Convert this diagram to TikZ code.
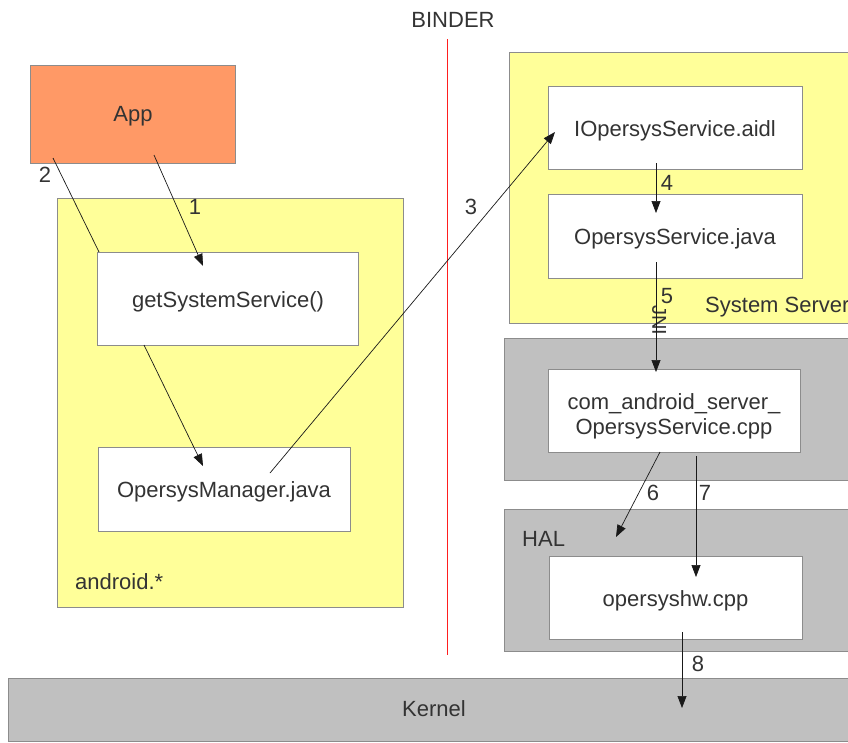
\documentclass[tikz,border=0pt]{standalone}
\usepackage{fontspec}
\setmainfont{Liberation Sans}
\usetikzlibrary{arrows.meta}
\definecolor{yel}{HTML}{FFFF99}
\definecolor{orng}{HTML}{FF9966}
\definecolor{gry}{HTML}{C0C0C0}
\definecolor{bord}{HTML}{8C8C8C}
\definecolor{txt}{HTML}{333333}
\definecolor{bindred}{RGB}{255,30,30}
\tikzset{
  x=1pt, y=-1pt,
  box/.style={draw=bord, line width=0.8pt, anchor=north west, inner sep=0pt, text=txt,
    font=\fontsize{22}{25}\selectfont, align=center},
  lbl/.style={inner sep=0pt, text=txt, font=\fontsize{22}{25}\selectfont,
    text height=0.72em, text depth=0.21em, yshift=-5pt},
  arr/.style={draw=black!90, line width=0.7pt, -{Triangle[length=12pt,width=9pt]}},
  ln/.style={draw=black!90, line width=0.7pt},
}
\begin{document}
\begin{tikzpicture}
\useasboundingbox (0,0) rectangle (848,742);
\clip (0,0) rectangle (848,742);
% containers
\node[box, fill=yel, minimum width=346pt, minimum height=409pt] (android) at (57,198) {};
\node[box, fill=yel, minimum width=360pt, minimum height=271pt] (sysserver) at (509,52) {};
\node[box, fill=gry, minimum width=360pt, minimum height=142pt] (jni) at (504,338) {};
\node[box, fill=gry, minimum width=360pt, minimum height=142pt] (hal) at (504,509) {};
\node[box, fill=gry, minimum width=860pt, minimum height=63pt] (kernel) at (8,678) {};
% binder line
\coordinate (bindtop) at (447.5,39);
\coordinate (bindbot) at (447.5,655);
\fill[bindred] (446.8,39) rectangle (448.4,655);
\node[lbl] (bindertxt) at (453,20) {BINDER};
% boxes
\node[box, fill=orng, minimum width=205pt, minimum height=98pt] (app) at (30,65) {};
\node[lbl] (apptxt) at (133,114) {App};
\node[box, fill=white, minimum width=261pt, minimum height=93pt] (gss) at (97,252) {};
\node[lbl] (gsstxt) at (228,300) {getSystemService()};
\node[box, fill=white, minimum width=252pt, minimum height=84pt] (mgr) at (98,447) {};
\node[lbl] (mgrtxt) at (224,490) {OpersysManager.java};
\node[box, fill=white, minimum width=254pt, minimum height=83pt] (aidl) at (548,86) {};
\node[lbl] (aidltxt) at (675,129) {IOpersysService.aidl};
\node[box, fill=white, minimum width=254pt, minimum height=84pt] (osj) at (548,194) {};
\node[lbl] (osjtxt) at (675,237) {OpersysService.java};
\node[box, fill=white, minimum width=252pt, minimum height=83pt] (cpp) at (548,369) {};
\node[lbl, align=center, text height=, text depth=] (cpptxt) at (674,411) {com\_android\_server\_\\OpersysService.cpp};
\node[box, fill=white, minimum width=253pt, minimum height=83pt] (hw) at (549,556) {};
\node[lbl] (hwtxt) at (675.5,599) {opersyshw.cpp};
% container labels
\node[lbl, anchor=west] (andtxt) at (75,582) {android.*};
\node[lbl, anchor=west] (sstxt) at (705,305) {System Server};
\node[lbl, anchor=west] (haltxt) at (522,539) {HAL};
\node[lbl] (kertxt) at (434,709) {Kernel};
\node[lbl, rotate=-90, yshift=0pt, font=\fontsize{20}{24}\selectfont] (jnitxt) at (655,315) {JNI};
% connector end points
\coordinate (a1s) at (154,155); \coordinate (a1e) at (203,266);
\coordinate (a2s) at (53,158);  \coordinate (a2e) at (99,252);
\coordinate (ags) at (144,345); \coordinate (age) at (203,466);
\coordinate (a3s) at (270,473); \coordinate (a3e) at (555,132);
\coordinate (a4s) at (656,163); \coordinate (a4e) at (656,213);
\coordinate (a5s) at (656,262); \coordinate (a5e) at (656,372);
\coordinate (a6s) at (660,452); \coordinate (a6e) at (616,537);
\coordinate (a7s) at (696,456); \coordinate (a7e) at (696,577);
\coordinate (a8s) at (682,632); \coordinate (a8e) at (682,708);
% connectors
\draw[arr] (a1s) -- (a1e);
\draw[ln] (a2s) -- (a2e);
\draw[arr] (ags) -- (age);
\draw[arr] (a3s) -- (a3e);
\draw[arr] (a4s) -- (a4e);
\draw[arr] (a5s) -- (a5e);
\draw[arr] (a6s) -- (a6e);
\draw[arr] (a7s) -- (a7e);
\draw[arr] (a8s) -- (a8e);
% numbers
\node[lbl] (n1) at (195,207) {1};
\node[lbl] (n2) at (45,175) {2};
\node[lbl] (n3) at (471,207) {3};
\node[lbl] (n4) at (667,183) {4};
\node[lbl] (n5) at (667,296) {5};
\node[lbl] (n6) at (653,493) {6};
\node[lbl] (n7) at (705,493) {7};
\node[lbl] (n8) at (698,664) {8};
\end{tikzpicture}
\end{document}
